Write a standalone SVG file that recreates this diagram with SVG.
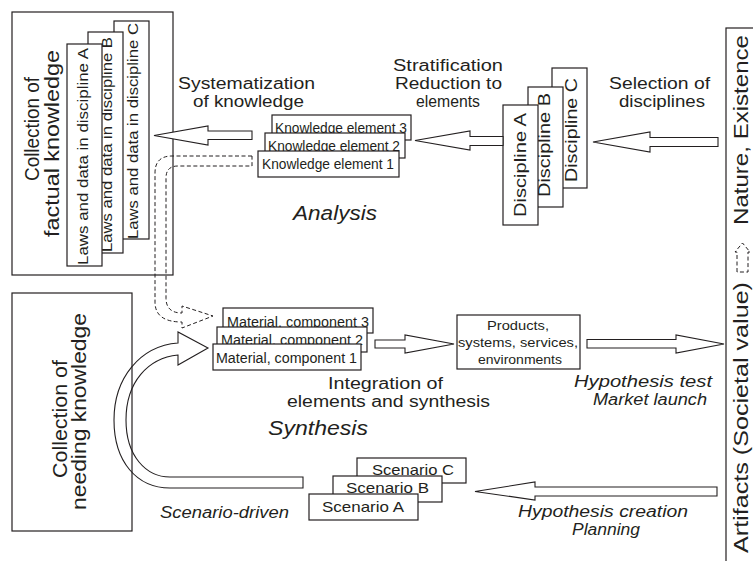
<svg xmlns="http://www.w3.org/2000/svg" width="753" height="561" viewBox="0 0 753 561">
<style>
  .box{fill:#fff;stroke:#231f20;stroke-width:1.2}
  .frame{fill:none;stroke:#231f20;stroke-width:1.2}
  .arrow{fill:#fff;stroke:#231f20;stroke-width:1.1;stroke-linejoin:miter}
  .hollow{fill:none;stroke:#231f20;stroke-width:1.1}
  .dash{fill:none;stroke:#231f20;stroke-width:1;stroke-dasharray:4,2.5}
  text{font-family:"Liberation Sans",Arial,sans-serif;fill:#231f20}
  .it{font-style:italic}
  .lab{font-size:16px}
  .big{font-size:20px}
</style>
<rect width="753" height="561" fill="#fff"/>

<g id="factual-knowledge">
  <rect class="box" x="12" y="12" width="161" height="263"/>
  <text class="big" text-anchor="middle" textLength="104" lengthAdjust="spacingAndGlyphs" transform="translate(39,129) rotate(-90)">Collection of</text>
  <text class="big" text-anchor="middle" textLength="187" lengthAdjust="spacingAndGlyphs" transform="translate(59,143.5) rotate(-90)">factual knowledge</text>
</g>
<g id="laws-C">
  <rect class="box" x="114" y="21" width="35" height="218"/>
  <text font-size="15" textLength="216" lengthAdjust="spacingAndGlyphs" transform="translate(137.5,239) rotate(-90)">Laws and data in discipline C</text>
</g>
<g id="laws-B">
  <rect class="box" x="88" y="32" width="35" height="221"/>
  <text font-size="15" textLength="215" lengthAdjust="spacingAndGlyphs" transform="translate(111.5,252) rotate(-90)">Laws and data in discipline B</text>
</g>
<g id="laws-A">
  <rect class="box" x="67" y="44" width="35" height="222"/>
  <text font-size="15" textLength="217" lengthAdjust="spacingAndGlyphs" transform="translate(87.5,265) rotate(-90)">Laws and data in discipline A</text>
</g>

<g id="knowledge-element-3">
  <rect class="box" x="272" y="115" width="139" height="25"/>
  <text font-size="14" x="275" y="133" textLength="132" lengthAdjust="spacingAndGlyphs">Knowledge element 3</text>
</g>
<g id="knowledge-element-2">
  <rect class="box" x="265" y="133" width="140" height="25"/>
  <text font-size="14" x="268" y="151" textLength="132" lengthAdjust="spacingAndGlyphs">Knowledge element 2</text>
</g>
<g id="knowledge-element-1">
  <rect class="box" x="258" y="151" width="141" height="26"/>
  <text font-size="14" x="262" y="169" textLength="132" lengthAdjust="spacingAndGlyphs">Knowledge element 1</text>
</g>

<g id="discipline-C">
  <rect class="box" x="552" y="68" width="35" height="120"/>
  <text font-size="17" textLength="104" lengthAdjust="spacingAndGlyphs" transform="translate(577,182) rotate(-90)">Discipline C</text>
</g>
<g id="discipline-B">
  <rect class="box" x="528" y="87" width="35" height="120"/>
  <text font-size="17" textLength="104" lengthAdjust="spacingAndGlyphs" transform="translate(550,197) rotate(-90)">Discipline B</text>
</g>
<g id="discipline-A">
  <rect class="box" x="503" y="105" width="35" height="120"/>
  <text font-size="17" textLength="104" lengthAdjust="spacingAndGlyphs" transform="translate(526,217) rotate(-90)">Discipline A</text>
</g>

<g id="needing-knowledge">
  <rect class="box" x="12" y="293" width="120" height="238"/>
  <text class="big" text-anchor="middle" textLength="118" lengthAdjust="spacingAndGlyphs" transform="translate(67,419) rotate(-90)">Collection of</text>
  <text class="big" text-anchor="middle" textLength="197" lengthAdjust="spacingAndGlyphs" transform="translate(86,411.5) rotate(-90)">needing knowledge</text>
</g>

<g id="material-component-3">
  <rect class="box" x="223" y="308" width="150" height="25"/>
  <text font-size="14" x="227" y="327" textLength="142" lengthAdjust="spacingAndGlyphs">Material, component 3</text>
</g>
<g id="material-component-2">
  <rect class="box" x="217" y="327" width="150" height="25"/>
  <text font-size="14" x="221" y="345" textLength="142" lengthAdjust="spacingAndGlyphs">Material, component 2</text>
</g>
<g id="material-component-1">
  <rect class="box" x="213" y="344" width="148" height="26"/>
  <text font-size="14" x="216" y="363" textLength="141" lengthAdjust="spacingAndGlyphs">Material, component 1</text>
</g>

<g id="products">
  <rect class="box" x="457" y="315" width="123" height="54"/>
  <text font-size="13.5" text-anchor="middle" x="518" y="330" textLength="62" lengthAdjust="spacingAndGlyphs">Products,</text>
  <text font-size="13.5" text-anchor="middle" x="518" y="347" textLength="120" lengthAdjust="spacingAndGlyphs">systems, services,</text>
  <text font-size="13.5" text-anchor="middle" x="520" y="364" textLength="84" lengthAdjust="spacingAndGlyphs">environments</text>
</g>

<g id="scenario-C">
  <rect class="box" x="357" y="458" width="109" height="25"/>
  <text font-size="15" x="372" y="475" textLength="82" lengthAdjust="spacingAndGlyphs">Scenario C</text>
</g>
<g id="scenario-B">
  <rect class="box" x="333" y="476" width="109" height="26"/>
  <text font-size="15" x="346" y="493" textLength="83" lengthAdjust="spacingAndGlyphs">Scenario B</text>
</g>
<g id="scenario-A">
  <rect class="box" x="309" y="494" width="109" height="26"/>
  <text font-size="15" x="322" y="512" textLength="82" lengthAdjust="spacingAndGlyphs">Scenario A</text>
</g>

<g id="artifacts-nature">
  <rect class="frame" x="726" y="28" width="40" height="545"/>
  <text class="big" textLength="271" lengthAdjust="spacingAndGlyphs" transform="translate(748,553) rotate(-90)">Artifacts (Societal value)</text>
  <path class="dash" stroke-dasharray="2.5,2" d="M737,272 L737,252 L735,252 L742.5,243 L750,252 L748,252 L748,272 Z"/>
  <text class="big" textLength="190" lengthAdjust="spacingAndGlyphs" transform="translate(748,225) rotate(-90)">Nature, Existence</text>
</g>

<g id="labels">
  <text class="lab" text-anchor="middle" x="246.5" y="89" textLength="137" lengthAdjust="spacingAndGlyphs">Systematization</text>
  <text class="lab" text-anchor="middle" x="248.5" y="107" textLength="111" lengthAdjust="spacingAndGlyphs">of knowledge</text>
  <text class="lab" text-anchor="middle" x="448" y="71" textLength="110" lengthAdjust="spacingAndGlyphs">Stratification</text>
  <text class="lab" text-anchor="middle" x="448.5" y="89" textLength="107" lengthAdjust="spacingAndGlyphs">Reduction to</text>
  <text class="lab" text-anchor="middle" x="448" y="107" textLength="64" lengthAdjust="spacingAndGlyphs">elements</text>
  <text class="lab" text-anchor="middle" x="659.5" y="89" textLength="101" lengthAdjust="spacingAndGlyphs">Selection of</text>
  <text class="lab" text-anchor="middle" x="662" y="107" textLength="86" lengthAdjust="spacingAndGlyphs">disciplines</text>
  <text class="big it" text-anchor="middle" x="335" y="220" textLength="84" lengthAdjust="spacingAndGlyphs">Analysis</text>
  <text class="lab" text-anchor="middle" x="385.5" y="389" textLength="115" lengthAdjust="spacingAndGlyphs">Integration of</text>
  <text class="lab" text-anchor="middle" x="388.5" y="407" textLength="203" lengthAdjust="spacingAndGlyphs">elements and synthesis</text>
  <text class="big it" text-anchor="middle" x="318" y="435" textLength="100" lengthAdjust="spacingAndGlyphs">Synthesis</text>
  <text class="lab it" text-anchor="middle" x="643" y="387" textLength="138" lengthAdjust="spacingAndGlyphs">Hypothesis test</text>
  <text class="lab it" text-anchor="middle" x="650" y="405" textLength="114" lengthAdjust="spacingAndGlyphs">Market launch</text>
  <text class="lab it" text-anchor="middle" x="603" y="517" textLength="170" lengthAdjust="spacingAndGlyphs">Hypothesis creation</text>
  <text class="lab it" text-anchor="middle" x="606" y="535" textLength="68" lengthAdjust="spacingAndGlyphs">Planning</text>
  <text class="lab it" text-anchor="middle" x="224.5" y="518" textLength="129" lengthAdjust="spacingAndGlyphs">Scenario-driven</text>
</g>

<g id="connectors">
  <polygon class="arrow" points="718,137.5 650,137.5 650,132 593,142 650,152 650,146.5 718,146.5"/>
  <polygon class="arrow" points="503,136.5 470,136.5 470,131 415,140.5 470,150 470,145.5 503,145.5"/>
  <polygon class="arrow" points="252,131 208,131 208,126 154,135.5 208,145 208,139.5 252,139.5"/>
  <path class="dash" d="M252,156 L172,156 Q155,156 155,173 L155,302 Q155,322 182,322 L182,328 L213,316 L182,306 L182,313 Q166,313 166,298 L166,178 Q166,166 178,166 L252,166 Z"/>
  <polygon class="arrow" points="375,340 405,340 405,335 454,344 405,353 405,348 375,348"/>
  <polygon class="arrow" points="587,339.5 676,339.5 676,335 724,344 676,353 676,348 587,348"/>
  <polygon class="arrow" points="717,487 535,487 535,482 475,491.5 535,500 535,496 717,496"/>
  <path class="hollow" d="M303,477 L303,488 L170,488 C137,488 114,462 114,420 C114,378 140,346 178,343 L178,332 L208,348 L178,365 L178,355 C148,358 126,382 126,420 C126,456 146,477 170,477 Z"/>
</g>
</svg>
